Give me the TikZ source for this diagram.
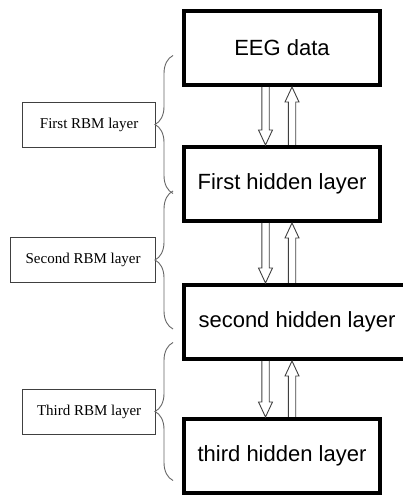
\documentclass[tikz,border=0pt]{standalone}
\usepackage{fontspec}
\setmainfont{Liberation Serif}
\newfontfamily\layerfont{Liberation Sans}
\usepackage{tikz}
\usetikzlibrary{positioning,calc,decorations.pathreplacing}

% hollow block arrow: start, tip, signed head length
\newcommand{\hollowarrow}[3]{%
  \draw[hollow] ($(#1)+(-3.7,0)$) -- ($(#2)+(-3.7,#3)$) -- ($(#2)+(-7,#3)$) -- (#2)
    -- ($(#2)+(7,#3)$) -- ($(#2)+(3.7,#3)$) -- ($(#1)+(3.7,0)$);}

\begin{document}
\begin{tikzpicture}[x=1pt,y=1pt,
  layer/.style={draw,line width=4pt,minimum width=196pt,minimum height=74pt,
    font=\layerfont\fontsize{22}{26}\selectfont},
  rbm/.style={draw=black!75,line width=0.8pt,minimum height=45pt,anchor=east,
    font=\fontsize{15}{18}\selectfont},
  hollow/.style={draw=black!75,line width=0.9pt,line join=miter},
  bracket/.style={draw=black!60,line width=0.9pt,decorate,decoration={brace,amplitude=18pt}}]
\useasboundingbox (0,0) rectangle (402,495);
  \node[layer] (eeg) at (282,447) {EEG data};
  \node[layer,below=58pt of eeg] (h1) {First hidden layer};
  \node[layer,minimum width=226pt,below=60pt of h1.south west,anchor=north west] (h2) {second hidden layer};
  \node[layer,below=56pt of h2.south west,anchor=north west] (h3) {third hidden layer};

  \node[rbm,minimum width=133pt] (rbm1) at (156,370.5) {First RBM layer};
  \node[rbm,minimum width=145pt] (rbm2) at (156,235) {Second RBM layer};
  \node[rbm,minimum width=133pt] (rbm3) at (156,83.5) {Third RBM layer};

  \path ([xshift=-16.5pt]h1.center) coordinate (dnx) ([xshift=10pt]h1.center) coordinate (upx);
  \foreach \hi/\lo in {eeg/h1,h1/h2,h2/h3}{
    \hollowarrow{dnx |- \hi.south}{dnx |- \lo.north}{15}
    \hollowarrow{upx |- \lo.north}{upx |- \hi.south}{-15}
  }

  \foreach \r in {rbm1,rbm2,rbm3}
    \draw[bracket] ($(\r.east)+(17,-69)$) -- ($(\r.east)+(17,69)$);
\end{tikzpicture}
\end{document}
